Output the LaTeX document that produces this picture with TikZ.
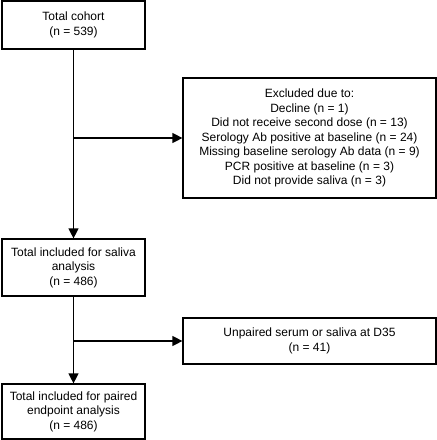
\documentclass[tikz,border=0pt]{standalone}
\usepackage{fontspec}
\setmainfont{Liberation Sans}
\usetikzlibrary{arrows.meta}

\providecommand*{\colL}{}
\providecommand*{\colR}{}
\renewcommand*{\colL}{73.5pt}
\renewcommand*{\colR}{309.5pt}

\tikzset{
  stagebox/.style={draw,line width=1.2pt,align=center,inner sep=0pt,
    minimum width=143pt,font=\fontsize{12}{14.5}\selectfont},
  exclbox/.style={stagebox,minimum width=253pt},
  flowarrow/.style={line width=1.2pt,-{Triangle[length=10pt,width=10pt]}}
}

\begin{document}
\begin{tikzpicture}[x=1pt,y=1pt]
  \useasboundingbox (0,0) rectangle (437,-440);
  \node [stagebox,minimum height=48pt] (cohort) at (\colL,-25) {Total cohort\\(n = 539)};
  \node [exclbox,minimum height=120pt] (excluded) at (\colR,-138)
    {Excluded due to:\\Decline (n = 1)\\Did not receive second dose (n = 13)\\
     Serology Ab positive at baseline (n = 24)\\Missing baseline serology Ab data (n = 9)\\
     PCR positive at baseline (n = 3)\\Did not provide saliva (n = 3)};
  \node [stagebox,minimum height=57pt] (saliva) at (\colL,-267.5)
    {Total included for saliva\\analysis\\(n = 486)};
  \node [exclbox,minimum height=46pt] (unpaired) at (\colR,-341)
    {Unpaired serum or saliva at D35\\(n = 41)};
  \node [stagebox,minimum height=55pt] (paired) at (\colL,-411.5)
    {Total included for paired\\endpoint analysis\\(n = 486)};

  \draw [flowarrow] (cohort.south) -- (saliva.north);
  \draw [flowarrow] (cohort.south |- excluded.west) -- (excluded.west);
  \draw [flowarrow] (saliva.south) -- (paired.north);
  \draw [flowarrow] (saliva.south |- unpaired.west) -- (unpaired.west);
\end{tikzpicture}
\end{document}
